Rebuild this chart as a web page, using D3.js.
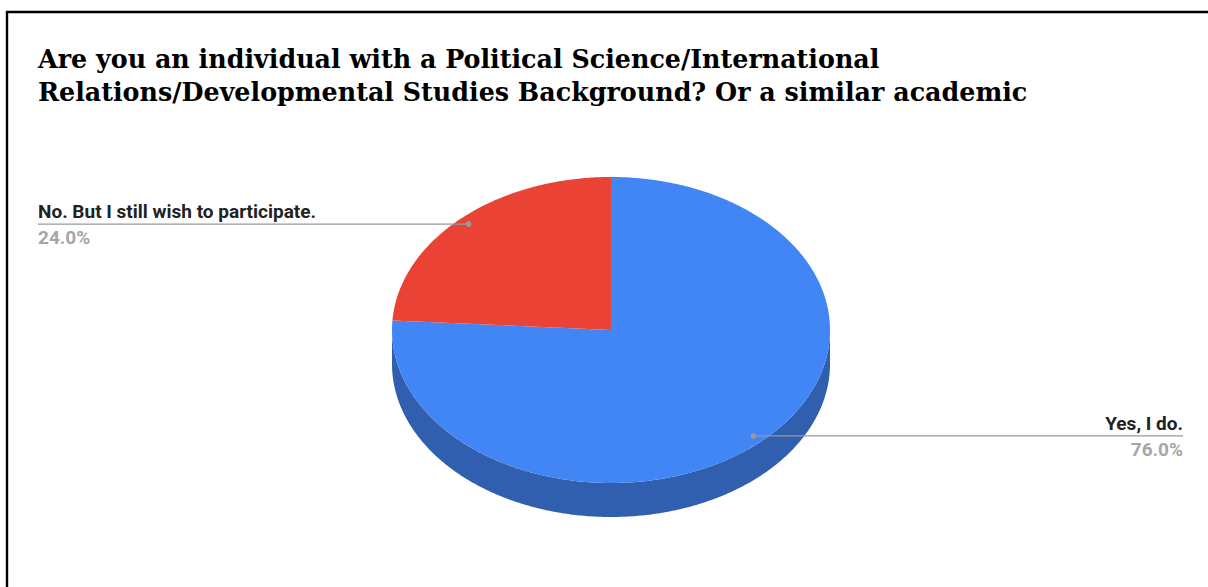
<!DOCTYPE html>
<html>
<head>
<meta charset="utf-8">
<script src="https://cdn.jsdelivr.net/npm/d3@7"></script>
<style>
  html, body { margin: 0; padding: 0; background: #fff; }
  svg { display: block; }
</style>
</head>
<body>
<svg id="chart" width="1208" height="587"></svg>
<script>
// ---- data ----
const titleLines = [
  "Are you an individual with a Political Science/International",
  "Relations/Developmental Studies Background? Or a similar academic"
];
const categories = ["Yes, I do.", "No. But I still wish to participate."];
const values = [76.0, 24.0];
const percentLabels = ["76.0%", "24.0%"];

// ---- styles / layout ----
const topColors = ["#4285f4", "#ea4335"];
const sideColors = ["#2f5fae", "#a8302a"];
const W = 1208, H = 587;
const cx = 611, cy = 330, rx = 219, ry = 153, depth = 34;

const svg = d3.select("#chart");
svg.append("rect").attr("width", W).attr("height", H).attr("fill", "#fff");

// border (frame of the screenshot)
svg.append("path")
  .attr("d", `M7,${H + 5} L7,12 L${W + 5},12`)
  .attr("fill", "none").attr("stroke", "#000").attr("stroke-width", 2.4);

// title
const title = svg.append("g").attr("font-family", "'DejaVu Serif', serif")
  .attr("font-weight", "bold").attr("fill", "#000");
const titleBase = [68, 101];
const titleTargetW = [842, 990];
titleLines.forEach((t, i) => {
  const el = title.append("text").attr("x", 38).attr("y", titleBase[i])
    .attr("font-size", 22).text(t);
  const w = el.node().getComputedTextLength();
  el.attr("font-size", 22 * titleTargetW[i] / w);
});

// pie
const color = d3.scaleOrdinal().domain(categories).range(topColors);
const sideColor = d3.scaleOrdinal().domain(categories).range(sideColors);
const pie = d3.pie().sort(null).value(d => d.value);
const arcs = pie(categories.map((c, i) => ({ cat: c, value: values[i], pct: percentLabels[i] })));

const ex = a => cx + rx * Math.sin(a);
const ey = (a, dy = 0) => cy - ry * Math.cos(a) + dy;

function arcPoints(a0, a1, dy = 0) {
  const n = Math.max(2, Math.ceil(Math.abs(a1 - a0) / 0.01));
  const pts = [];
  for (let k = 0; k <= n; k++) {
    const a = a0 + (a1 - a0) * k / n;
    pts.push([ex(a), ey(a, dy)]);
  }
  return pts;
}
const line = d3.line();

const g = svg.append("g");
// side walls (front half: angle pi/2 .. 3pi/2)
arcs.forEach(d => {
  const s = Math.max(d.startAngle, Math.PI / 2);
  const e = Math.min(d.endAngle, 3 * Math.PI / 2);
  if (e <= s) return;
  const pts = arcPoints(s, e).concat(arcPoints(e, s, depth));
  g.append("path").attr("d", line(pts) + "Z").attr("fill", sideColor(d.data.cat));
});
// top faces
arcs.forEach(d => {
  const pts = [[cx, cy]].concat(arcPoints(d.startAngle, d.endAngle));
  g.append("path").attr("d", line(pts) + "Z").attr("fill", color(d.data.cat));
});

// labels with leader lines
const labelFont = "Roboto, 'Noto Sans', sans-serif";
const labelSize = 19;
arcs.forEach(d => {
  const mid = (d.startAngle + d.endAngle) / 2;
  const px = cx + rx * 0.95 * Math.sin(mid);
  const py = cy - ry * 0.95 * Math.cos(mid);
  const right = Math.sin(mid) > 0;
  const endX = right ? 1183 : 38;
  g.append("line").attr("x1", px).attr("y1", py).attr("x2", endX).attr("y2", py)
    .attr("stroke", "#999").attr("stroke-width", 1.3);
  g.append("circle").attr("cx", px).attr("cy", py).attr("r", 2.8).attr("fill", "#999");
  g.append("text").attr("x", endX).attr("y", py - 6)
    .attr("text-anchor", right ? "end" : "start")
    .attr("font-family", labelFont).attr("font-weight", "bold")
    .attr("font-size", labelSize).attr("fill", "#222").text(d.data.cat);
  g.append("text").attr("x", endX).attr("y", py + 20)
    .attr("text-anchor", right ? "end" : "start")
    .attr("font-family", labelFont).attr("font-weight", "bold")
    .attr("font-size", labelSize).attr("fill", "#a6a6a6").text(d.data.pct);
});
</script>
</body>
</html>
